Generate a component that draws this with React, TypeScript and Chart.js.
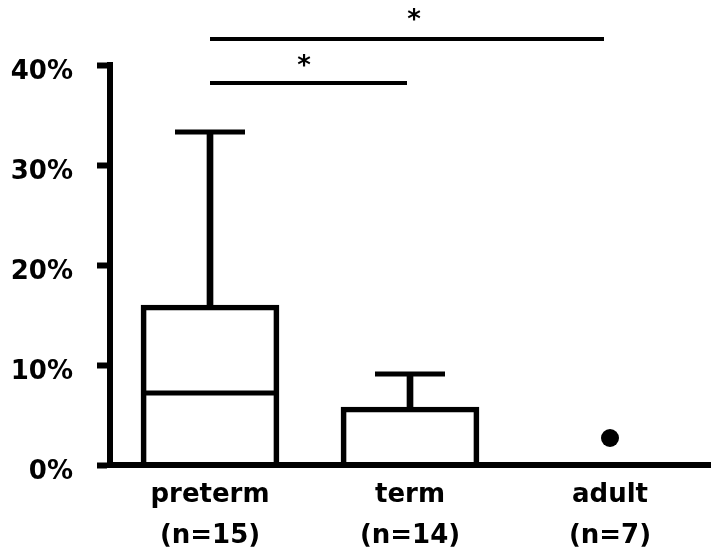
import React, { useEffect, useRef } from "react";
import { Chart, registerables } from "chart.js";

Chart.register(...registerables);

// ---- data ----
const categories = ["preterm", "term", "adult"];
const groupSizes = ["(n=15)", "(n=14)", "(n=7)"];
const q1Values = [0, 0, 0];
const q3Values = [16.0, 5.8, 0];
const medianValues = [7.2, 0, 0];
const whiskerMax = [33.3, 9.1, 0];
const outlierCategory = [3];
const outlierValues = [2.7];
const yTicks = [0, 10, 20, 30, 40];

// significance brackets
const sigFrom = [1, 1];
const sigTo = [1.985, 2.97];
const sigLevel = [38.2, 42.6];
const sigLabel = ["*", "*"];
const sigLabelX = [1.47, 2.02];
const sigLabelY = [40.5, 45.1];

const FONT = "'DejaVu Sans', 'Liberation Sans', Arial, sans-serif";

const starPlugin = {
  id: "sigStars",
  afterDatasetsDraw(chart: any) {
    const { ctx, scales } = chart;
    const xs = scales.x;
    const ys = scales.y;
    ctx.save();
    ctx.fillStyle = "#000";
    ctx.font = `bold 26px ${FONT}`;
    ctx.textAlign = "center";
    ctx.textBaseline = "alphabetic";
    sigLabel.forEach((t, i) => {
      const m = ctx.measureText(t);
      const cx = xs.getPixelForValue(sigLabelX[i]);
      const cy = ys.getPixelForValue(sigLabelY[i]);
      const base = cy + (m.actualBoundingBoxAscent - m.actualBoundingBoxDescent) / 2;
      ctx.fillText(t, cx, base);
    });
    ctx.restore();
  },
};

const zeroPad = (scale: any) => {
  scale.paddingLeft = 0;
  scale.paddingRight = 0;
  scale.paddingTop = 0;
  scale.paddingBottom = 0;
};

export default function App() {
  const ref = useRef<HTMLCanvasElement | null>(null);

  useEffect(() => {
    document.body.style.margin = "0";
    const canvas = ref.current;
    if (!canvas) return;

    const xPos = categories.map((_, i) => i + 1);

    const datasets: any[] = [
      {
        type: "bar",
        label: "whisker",
        data: xPos.map((x, i) => ({ x, y: [q3Values[i], whiskerMax[i]] })),
        backgroundColor: "#000",
        borderWidth: 0,
        barThickness: 6,
        grouped: false,
        order: 5,
      },
      {
        type: "bar",
        label: "box",
        data: xPos.map((x, i) => ({ x, y: [q1Values[i], q3Values[i]] })),
        backgroundColor: "rgba(255,255,255,0)",
        borderColor: "#000",
        borderWidth: 5,
        borderSkipped: "start",
        barThickness: 138,
        grouped: false,
        order: 4,
      },
      {
        type: "scatter",
        label: "median",
        data: xPos.map((x, i) => ({ x, y: medianValues[i] })),
        pointStyle: "line",
        pointRadius: 66,
        pointHoverRadius: 66,
        borderColor: "#000",
        borderWidth: 5,
        order: 3,
      },
      {
        type: "scatter",
        label: "cap",
        data: xPos.map((x, i) => ({ x, y: whiskerMax[i] })),
        pointStyle: "line",
        pointRadius: 35,
        pointHoverRadius: 35,
        borderColor: "#000",
        borderWidth: 5,
        order: 3,
      },
      {
        type: "scatter",
        label: "outlier",
        data: outlierCategory.map((c, i) => ({ x: c, y: outlierValues[i] })),
        pointStyle: "circle",
        pointRadius: 9,
        backgroundColor: "#000",
        borderWidth: 0,
        order: 2,
      },
      ...sigLevel.map((lv, i) => ({
        type: "line",
        label: "sig" + i,
        data: [
          { x: sigFrom[i], y: lv },
          { x: sigTo[i], y: lv },
        ],
        borderColor: "#000",
        borderWidth: 4,
        pointRadius: 0,
        clip: false,
        order: 1,
      })),
    ];

    const chart = new Chart(canvas, {
      type: "bar",
      data: { datasets },
      plugins: [starPlugin],
      options: {
        responsive: false,
        animation: false,
        events: [],
        layout: { autoPadding: false, padding: { top: 65, right: 10, bottom: 0, left: 0 } },
        plugins: { legend: { display: false }, tooltip: { enabled: false } },
        scales: {
          x: {
            type: "linear",
            min: 0.5,
            max: 3.5,
            offset: false,
            afterBuildTicks: (scale: any) => {
              scale.ticks = xPos.map((v) => ({ value: v }));
            },
            afterFit: (scale: any) => {
              scale.height = 95;
              zeroPad(scale);
            },
            grid: { display: false, drawTicks: false },
            border: { display: true, color: "#000", width: 6, z: 1 },
            ticks: {
              color: "#000",
              padding: 10,
              autoSkip: false,
              maxRotation: 0,
              font: { family: FONT, size: 26, weight: "bold", lineHeight: "41px" },
              callback: (v: any) => {
                const i = Math.round(Number(v)) - 1;
                return [categories[i], groupSizes[i]];
              },
            },
          },
          y: {
            type: "linear",
            min: 0,
            max: 40,
            afterBuildTicks: (scale: any) => {
              scale.ticks = yTicks.map((v) => ({ value: v }));
            },
            afterFit: (scale: any) => {
              scale.width = 110;
              zeroPad(scale);
            },
            grid: {
              display: true,
              drawOnChartArea: false,
              drawTicks: true,
              tickLength: 13,
              tickWidth: 6,
              color: "#000",
              tickColor: "#000",
            },
            border: { display: true, color: "#000", width: 6, z: 1 },
            ticks: {
              color: "#000",
              padding: 24,
              labelOffset: (c: any) => (c.tick && c.tick.value === 0 ? -2 : 7),
              font: { family: FONT, size: 26, weight: "bold" },
              callback: (v: any) => `${v}%`,
            },
          },
        },
      },
    } as any);

    return () => chart.destroy();
  }, []);

  return (
    <div style={{ width: 720, height: 560, background: "#fff" }}>
      <canvas ref={ref} width={720} height={560} style={{ display: "block" }} />
    </div>
  );
}
